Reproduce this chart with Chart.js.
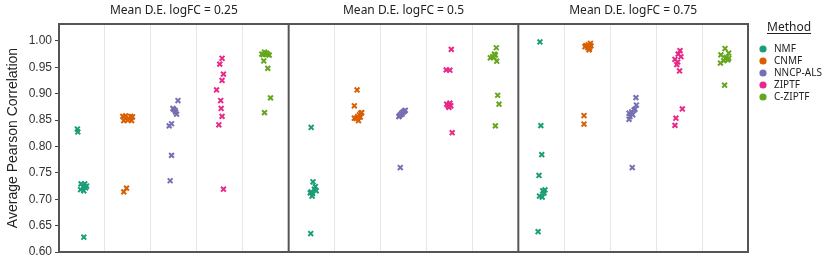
<!DOCTYPE html>
<html lang="en">
<head>
<meta charset="UTF-8">
<title>Average Pearson Correlation by method</title>
<script src="https://cdn.jsdelivr.net/npm/chart.js"></script>
<style>
  body { margin: 0; background: #fff; }
  #wrap { position: relative; width: 830px; height: 272px; }
</style>
</head>
<body>
<div id="wrap"><canvas id="corrChart"></canvas></div>
<script>
    const panels = ['Mean D.E. logFC = 0.25', 'Mean D.E. logFC = 0.5', 'Mean D.E. logFC = 0.75'];
    const methods = ['NMF', 'CNMF', 'NNCP-ALS', 'ZIPTF', 'C-ZIPTF'];
    const colors = ['#1b9e77', '#d95f02', '#7570b3', '#e7298a', '#66a61e'];
    const yTicks = [0.60, 0.65, 0.70, 0.75, 0.80, 0.85, 0.90, 0.95, 1.00];

    // one row per panel (logFC 0.25, 0.5, 0.75), ten runs each
    const nmfVals = [
        [0.833, 0.8275, 0.729, 0.729, 0.7235, 0.7215, 0.718, 0.716, 0.725, 0.628],
        [0.836, 0.733, 0.724, 0.716, 0.714, 0.711, 0.712, 0.706, 0.719, 0.635],
        [0.998, 0.8395, 0.7845, 0.745, 0.716, 0.7175, 0.706, 0.704, 0.712, 0.6385]
    ];
    const cnmfVals = [
        [0.857, 0.858, 0.857, 0.856, 0.849, 0.850, 0.849, 0.853, 0.714, 0.721],
        [0.907, 0.877, 0.863, 0.860, 0.8565, 0.8535, 0.849, 0.8555, 0.853, 0.864],
        [0.989, 0.987, 0.9955, 0.983, 0.991, 0.9905, 0.9925, 0.986, 0.8585, 0.8425]
    ];
    const nncpVals = [
        [0.887, 0.872, 0.868, 0.861, 0.865, 0.843, 0.839, 0.783, 0.735, 0.870],
        [0.8565, 0.860, 0.863, 0.865, 0.867, 0.8685, 0.858, 0.861, 0.866, 0.760],
        [0.8925, 0.8785, 0.869, 0.8655, 0.863, 0.8565, 0.8515, 0.860, 0.8705, 0.760]
    ];
    const ziptfVals = [
        [0.967, 0.956, 0.937, 0.925, 0.907, 0.887, 0.872, 0.857, 0.841, 0.719],
        [0.984, 0.945, 0.9445, 0.880, 0.879, 0.877, 0.877, 0.882, 0.874, 0.826],
        [0.9815, 0.975, 0.970, 0.965, 0.960, 0.955, 0.943, 0.871, 0.8535, 0.840]
    ];
    const cziptfVals = [
        [0.975, 0.9785, 0.977, 0.973, 0.974, 0.9745, 0.962, 0.948, 0.892, 0.864],
        [0.987, 0.975, 0.970, 0.968, 0.969, 0.9615, 0.973, 0.897, 0.880, 0.839],
        [0.9855, 0.977, 0.9735, 0.969, 0.964, 0.9625, 0.958, 0.9665, 0.967, 0.916]
    ];

    // strip jitter, in category widths
    const nmfJit = [
        [-0.10, -0.09, -0.02, 0.06, 0.02, 0.08, -0.03, 0.04, 0.10, 0.04],
        [-0.01, 0.03, 0.08, 0.10, -0.01, 0.02, -0.03, 0.01, 0.06, -0.02],
        [-0.03, -0.01, 0.01, -0.05, 0.03, 0.08, -0.04, 0.02, 0.06, -0.07]
    ];
    const cnmfJit = [
        [-0.11, -0.05, 0.06, 0.10, -0.09, 0, 0.08, 0.02, -0.09, -0.03],
        [-0.01, -0.07, 0.07, 0.04, 0, -0.07, 0.02, 0.06, -0.03, 0.09],
        [-0.05, 0.01, 0.07, 0.04, -0.03, 0.08, 0.02, 0.05, -0.07, -0.07]
    ];
    const nncpJit = [
        [0.09, -0.02, 0.03, 0.06, 0.04, -0.05, -0.10, -0.05, -0.08, 0],
        [-0.10, -0.07, -0.04, -0.01, 0.02, 0.04, -0.09, -0.03, 0, -0.07],
        [0.06, 0.07, 0.02, -0.03, -0.09, -0.07, -0.09, -0.01, 0.04, -0.02]
    ];
    const ziptfJit = [
        [0.05, 0, 0.08, 0.05, -0.07, 0.02, 0.03, 0.05, -0.02, 0.08],
        [0.04, -0.07, 0.01, -0.06, -0.01, 0.03, -0.03, 0.01, -0.01, 0.06],
        [0.02, -0.02, 0.04, -0.09, -0.03, -0.05, 0.01, 0.07, -0.07, -0.09]
    ];
    const cziptfJit = [
        [-0.085, -0.026, 0.018, 0.077, -0.055, 0.046, -0.042, 0.046, 0.105, -0.026],
        [0.02, -0.02, -0.06, -0.11, -0.03, 0.03, 0, 0.05, 0.08, 0],
        [0, 0.08, -0.09, 0.03, 0.06, -0.03, -0.10, 0.01, 0.08, -0.01]
    ];

    const allVals = [nmfVals, cnmfVals, nncpVals, ziptfVals, cziptfVals];
    const allJit = [nmfJit, cnmfJit, nncpJit, ziptfJit, cziptfJit];

    // x runs 0..15: panel p, method m sits in [5p + m, 5p + m + 1]
    function buildPoints(m) {
        let pts = [];
        allVals[m].forEach((row, p) => {
            row.forEach((v, i) => {
                pts.push({ x: p * 5 + m + 0.5 + allJit[m][p][i], y: v });
            });
        });
        return pts;
    }

    const facetDecor = {
        id: 'facetDecor',
        beforeDatasetsDraw(chart) {
            const { ctx, chartArea: a, scales: { x } } = chart;
            ctx.save();
            ctx.strokeStyle = '#555';
            ctx.lineWidth = 2;
            ctx.strokeRect(a.left, a.top, a.right - a.left, a.bottom - a.top);
            [5, 10].forEach(v => {
                const px = x.getPixelForValue(v);
                ctx.beginPath();
                ctx.moveTo(px, a.top);
                ctx.lineTo(px, a.bottom);
                ctx.stroke();
            });
            ctx.restore();
        },
        afterDraw(chart) {
            const { ctx, chartArea: a, scales: { x } } = chart;
            ctx.save();
            ctx.fillStyle = '#222';
            ctx.font = '12px "Noto Sans"';
            ctx.textAlign = 'center';
            ctx.textBaseline = 'middle';
            panels.forEach((t, p) => {
                ctx.fillText(t, x.getPixelForValue(p * 5 + 2.5), 10.5);
            });

            // legend
            const lx = a.right + 15;
            ctx.textAlign = 'left';
            ctx.font = '12px "Noto Sans"';
            ctx.fillText('Method', lx + 4, 28);
            const w = ctx.measureText('Method').width;
            ctx.strokeStyle = '#222';
            ctx.lineWidth = 1;
            ctx.beginPath();
            ctx.moveTo(lx + 4, 33.5);
            ctx.lineTo(lx + 4 + w, 33.5);
            ctx.stroke();
            ctx.font = '10px "Noto Sans"';
            methods.forEach((name, i) => {
                const y = 49 + i * 12;
                ctx.fillStyle = colors[i];
                ctx.beginPath();
                ctx.arc(lx, y, 3.6, 0, Math.PI * 2);
                ctx.fill();
                ctx.fillStyle = '#222';
                ctx.fillText(name, lx + 11, y);
            });
            ctx.restore();
        }
    };

    const ctx = document.getElementById('corrChart').getContext('2d');
    new Chart(ctx, {
        type: 'scatter',
        data: {
            datasets: methods.map((name, m) => ({
                label: name,
                data: buildPoints(m),
                pointStyle: 'crossRot',
                pointRadius: 3.4,
                pointBorderWidth: 2,
                borderColor: colors[m],
                backgroundColor: colors[m]
            }))
        },
        options: {
            responsive: true,
            maintainAspectRatio: false,
            animation: false,
            layout: { padding: { top: 24, right: 82, bottom: 20, left: 4 } },
            plugins: {
                legend: { display: false },
                tooltip: { enabled: false }
            },
            scales: {
                x: {
                    type: 'linear',
                    min: 0,
                    max: 15,
                    ticks: { display: false, stepSize: 1 },
                    grid: {
                        drawTicks: false,
                        color: c => (c.tick.value % 5 === 0 ? 'rgba(0,0,0,0)' : '#e6e6e6')
                    },
                    border: { display: false },
                    afterFit(scale) { scale.height = 0; }
                },
                y: {
                    min: 0.6,
                    max: 1.032,
                    afterBuildTicks(scale) { scale.ticks = yTicks.map(v => ({ value: v })); },
                    ticks: {
                        padding: 3,
                        color: '#333',
                        font: { family: '"Liberation Sans", Arial, sans-serif', size: 12 },
                        callback: v => v.toFixed(2)
                    },
                    grid: {
                        drawOnChartArea: false,
                        drawTicks: true,
                        tickLength: 4,
                        tickColor: '#444',
                        tickWidth: 1
                    },
                    border: { display: false },
                    title: {
                        display: true,
                        text: 'Average Pearson Correlation',
                        color: '#222',
                        font: { family: '"Liberation Sans", Arial, sans-serif', size: 14 },
                        padding: { top: 1, bottom: 1 }
                    },
                    afterFit(scale) { scale.width = 55; }
                }
            }
        },
        plugins: [facetDecor]
    });
</script>
</body>
</html>
